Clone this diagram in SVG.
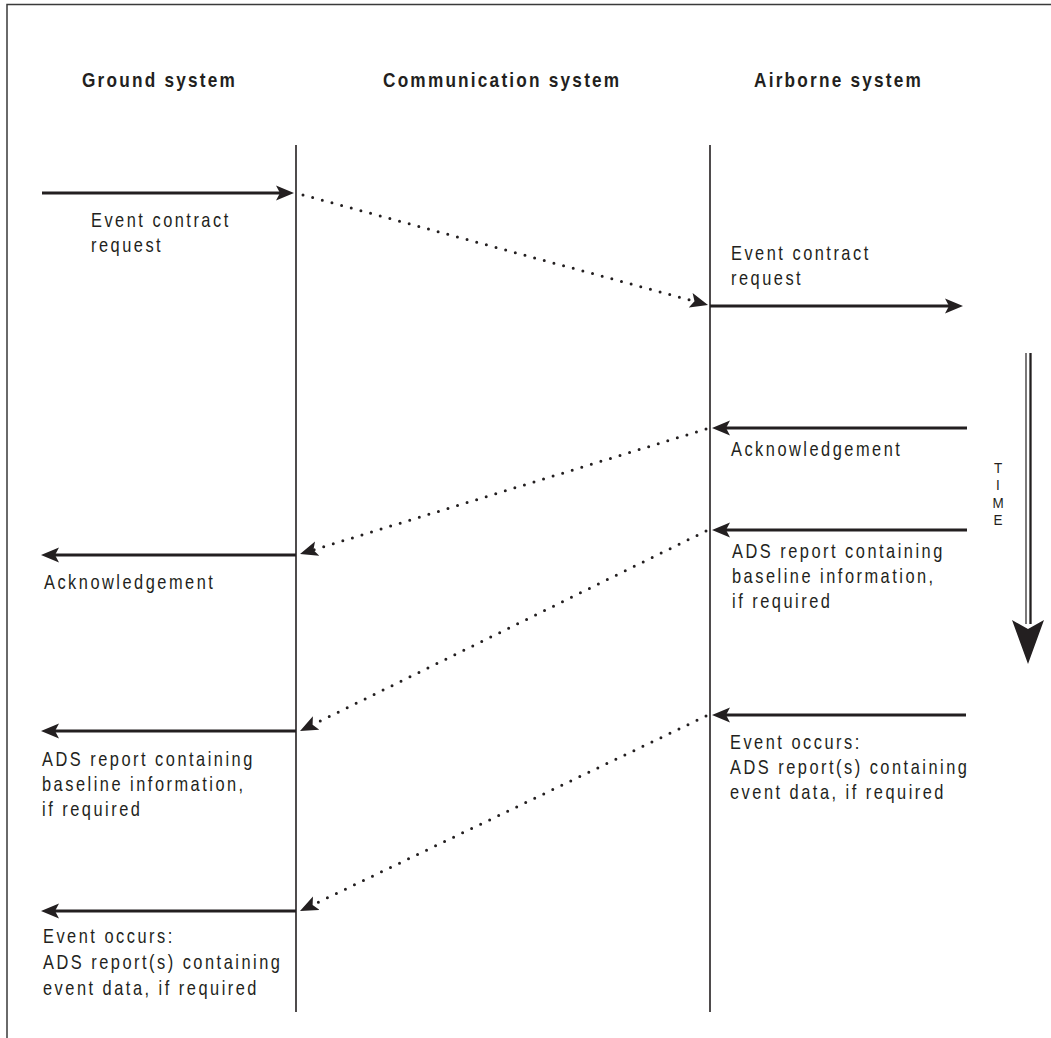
<svg xmlns="http://www.w3.org/2000/svg" width="1051" height="1038" viewBox="0 0 1051 1038">
  <style>
    .frame { stroke: #3a3a3a; stroke-width: 1.5; fill: none; }
    .lifeline { stroke: #231f20; stroke-width: 1.6; fill: none; }
    .msg { stroke: #231f20; stroke-width: 3.2; fill: none; marker-end: url(#head); }
    .relay { stroke: #231f20; stroke-width: 3; fill: none; stroke-linecap: round; stroke-dasharray: 0 10; marker-end: url(#head); }
    .hdr { font-family: "Liberation Sans", Arial, sans-serif; font-weight: bold; font-size: 21px; letter-spacing: 2.7px; fill: #231f20; }
    .lbl { font-family: "Liberation Sans", Arial, sans-serif; font-size: 20px; letter-spacing: 3.05px; fill: #231f20; }
    .time { font-family: "Liberation Sans", Arial, sans-serif; font-size: 15px; fill: #231f20; text-anchor: middle; }
  </style>
  <defs>
    <marker id="head" markerUnits="userSpaceOnUse" viewBox="0 -8 18 16" markerWidth="18" markerHeight="16" refX="4" refY="0" orient="auto">
      <path d="M18,0 L0,-7.5 L4,0 L0,7.5 Z" fill="#231f20"/>
    </marker>
  </defs>

  <rect width="1051" height="1038" fill="#ffffff"/>

  <!-- outer frame: top and left edges -->
  <path class="frame" d="M7,1038 V4.5 H1051"/>

  <!-- columns: condensed lettering is done by squeezing x by 0.82 -->
  <g id="ground-system">
    <g transform="translate(82,0) scale(0.82,1)"><text class="hdr" x="0" y="87">Ground system</text></g>
    <line class="lifeline" x1="296" y1="145" x2="296" y2="1012"/>
  </g>
  <g id="communication-system">
    <g transform="translate(383,0) scale(0.82,1)"><text class="hdr" x="0" y="87">Communication system</text></g>
  </g>
  <g id="airborne-system">
    <g transform="translate(754,0) scale(0.82,1)"><text class="hdr" x="0" y="87">Airborne system</text></g>
    <line class="lifeline" x1="710" y1="145" x2="710" y2="1012"/>
  </g>

  <!-- time axis -->
  <g id="time-axis">
    <line x1="1026" y1="353" x2="1026" y2="624" stroke="#231f20" stroke-width="1.2"/>
    <line x1="1030.5" y1="353" x2="1030.5" y2="624" stroke="#231f20" stroke-width="2.3"/>
    <path d="M1012,620 L1028,629 L1044,620 L1028,664 Z" fill="#231f20"/>
    <g transform="translate(998,0) scale(0.9,1)">
      <text class="time"><tspan x="0" y="473">T</tspan><tspan x="0" y="490.5">I</tspan><tspan x="0" y="508">M</tspan><tspan x="0" y="525.5">E</tspan></text>
    </g>
  </g>

  <!-- message labels -->
  <g id="ground-request-label" transform="translate(91,0) scale(0.82,1)">
    <text class="lbl" x="0" y="227">Event contract</text>
    <text class="lbl" x="0" y="252">request</text>
  </g>
  <g id="airborne-request-label" transform="translate(731,0) scale(0.82,1)">
    <text class="lbl" x="0" y="260">Event contract</text>
    <text class="lbl" x="0" y="285">request</text>
  </g>
  <g id="airborne-ack-label" transform="translate(731,0) scale(0.82,1)">
    <text class="lbl" x="0" y="456">Acknowledgement</text>
  </g>
  <g id="airborne-baseline-label" transform="translate(732,0) scale(0.82,1)">
    <text class="lbl" x="0" y="558">ADS report containing</text>
    <text class="lbl" x="0" y="583">baseline information,</text>
    <text class="lbl" x="0" y="608">if required</text>
  </g>
  <g id="ground-ack-label" transform="translate(44,0) scale(0.82,1)">
    <text class="lbl" x="0" y="589">Acknowledgement</text>
  </g>
  <g id="airborne-event-label" transform="translate(730,0) scale(0.82,1)">
    <text class="lbl" x="0" y="749">Event occurs:</text>
    <text class="lbl" x="0" y="774">ADS report(s) containing</text>
    <text class="lbl" x="0" y="799">event data, if required</text>
  </g>
  <g id="ground-baseline-label" transform="translate(42,0) scale(0.82,1)">
    <text class="lbl" x="0" y="766">ADS report containing</text>
    <text class="lbl" x="0" y="791">baseline information,</text>
    <text class="lbl" x="0" y="816">if required</text>
  </g>
  <g id="ground-event-label" transform="translate(43,0) scale(0.82,1)">
    <text class="lbl" x="0" y="943">Event occurs:</text>
    <text class="lbl" x="0" y="969">ADS report(s) containing</text>
    <text class="lbl" x="0" y="995">event data, if required</text>
  </g>

  <!-- connectors -->
  <g id="connectors">
    <line class="msg" x1="42" y1="193" x2="280" y2="193"/>
    <line class="msg" x1="710" y1="306" x2="949" y2="306"/>
    <line class="msg" x1="967" y1="428" x2="726" y2="428"/>
    <line class="msg" x1="967" y1="530" x2="726" y2="530"/>
    <line class="msg" x1="296" y1="555" x2="55" y2="555"/>
    <line class="msg" x1="966" y1="715" x2="726" y2="715"/>
    <line class="msg" x1="296" y1="731" x2="55" y2="731"/>
    <line class="msg" x1="296" y1="911" x2="55" y2="911"/>

    <line class="relay" x1="303" y1="195" x2="694.5" y2="301.3"/>
    <line class="relay" x1="706" y1="429" x2="313.4" y2="549.9"/>
    <line class="relay" x1="706" y1="531" x2="312.6" y2="724.8"/>
    <line class="relay" x1="706" y1="716" x2="312.6" y2="904.9"/>
  </g>
</svg>
